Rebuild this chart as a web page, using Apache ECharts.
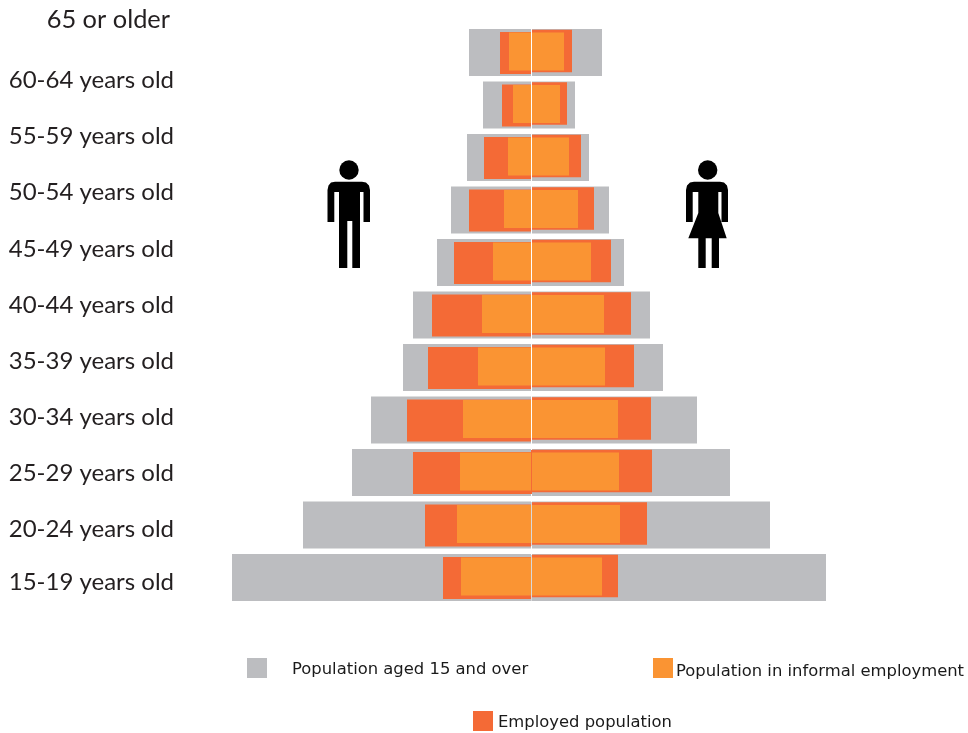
<!DOCTYPE html>
<html>
<head>
<meta charset="utf-8">
<style>html,body{margin:0;padding:0;background:#fff}#chart{width:968px;height:733px}</style>
<script src="https://cdn.jsdelivr.net/npm/echarts@6/dist/echarts.min.js"></script>
</head>
<body>
<div id="chart"></div>
<script>
// Age groups, oldest at the top of the pyramid
const ageGroups = ['65 or older','60-64 years old','55-59 years old','50-54 years old','45-49 years old','40-44 years old','35-39 years old','30-34 years old','25-29 years old','20-24 years old','15-19 years old'];

// Population aged 15 and over
const populationMen   = [62.5,48.5,64.5,80.5,94.5,118.5,128.5,160.5,179.5,228.5,299.5];
const populationWomen = [70.5,43.5,57.5,77.5,92.5,118.5,131.5,165.5,198.5,238.5,294.5];
// Employed population
const employedMen   = [31.5,29.5,47.5,62.5,77.5,99.5,103.5,124.5,118.5,106.5,88.5];
const employedWomen = [40.5,35.5,49.5,62.5,79.5,99.5,102.5,119.5,120.5,115.5,86.5];
// Population in informal employment
const informalMen   = [22.5,18.5,23.5,27.5,38.5,49.5,53.5,68.5,71.5,74.5,70.5];
const informalWomen = [32.5,28.5,37.5,46.5,59.5,72.5,73.5,86.5,87.5,88.5,70.5];

const NAME_POP = 'Population aged 15 and over';
const NAME_EMP = 'Employed population';
const NAME_INF = 'Population in informal employment';
const GREY = '#bcbdc0', RED = '#f46a36', ORANGE = '#fa9433';
const LABEL_FONT = 'Lato';
const LEGEND_FONT = '"DejaVu Sans"';

// Vertical centres of the age labels, which run on their own spacing
const ageLabelY = [20,80.5,136.5,192.5,249.5,305.5,361.5,417.5,473.5,529.5,582.5];

// One half of a pyramid layer: side is -1 for men, 1 for women
function layer(name, values, side, color, height, shift, z) {
  return {
    type: 'custom', name, z, xAxisIndex: 0, yAxisIndex: 0,
    itemStyle: { color },
    encode: { x: 0, y: 1 },
    data: values.map((v, i) => [side * v, i]),
    renderItem(params, api) {
      const end = api.coord([api.value(0), api.value(1)]);
      const start = api.coord([side * 0.5, api.value(1)]);
      const x = Math.min(start[0], end[0]);
      return {
        type: 'rect',
        shape: { x, y: end[1] - height / 2 + shift, width: Math.abs(end[0] - start[0]), height },
        style: { fill: color }
      };
    }
  };
}

// Pictogram outlines
const manBody = [[335,181.7],[362,181.7],[366,182.5],[369,185.5],[370,190],[370,222],[363.5,222],[363.5,192],[360,192],[360,268],[352.3,268],[352.3,221],[347.3,221],[347.3,268],[339,268],[339,192],[334.3,192],[334.3,222],[327.5,222],[327.5,190],[328.5,185.5],[331,182.5]];
const womanBody = [[694,181.7],[720,181.7],[724,182.5],[727,185.5],[728,190],[728,222],[721.5,222],[721.5,192],[718.3,192],[718.3,213],[726.7,238.3],[719,238.3],[719,268],[711.7,268],[711.7,238.3],[705.7,238.3],[705.7,268],[698.3,268],[698.3,238.3],[688.3,238.3],[698.3,213],[698.3,192],[692.7,192],[692.7,222],[686,222],[686,190],[687,185.5],[690,182.5]];

// Each legend entry sits on its own; the rich padding sets the text's drop and indent
function legendAt(name, left, top, padding) {
  return {
    data: [{ name, icon: 'rect' }], left, top, padding: 0,
    itemWidth: 20, itemHeight: 20, selectedMode: false,
    formatter: '{t|{name}}',
    textStyle: {
      fontFamily: LEGEND_FONT, fontSize: 16.4, color: '#1a1a1a',
      rich: { t: { fontFamily: LEGEND_FONT, fontSize: 16.4, color: '#1a1a1a', padding } }
    }
  };
}

const chart = echarts.init(document.getElementById('chart'), null, { renderer: 'canvas' });
chart.setOption({
  animation: false,
  backgroundColor: '#fff',
  grid: [
    { left: 231.5, width: 596, top: 26.25, height: 577.5 },
    { left: 174, width: 1, top: 0, height: 733 }
  ],
  xAxis: [
    { type: 'value', gridIndex: 0, min: -300, max: 296, show: false },
    { type: 'value', gridIndex: 1, min: 0, max: 1, show: false }
  ],
  yAxis: [
    { type: 'category', gridIndex: 0, data: ageGroups, inverse: true, show: false },
    {
      type: 'value', gridIndex: 1, min: 0, max: 733, inverse: true,
      axisLine: { show: false }, axisTick: { show: false }, splitLine: { show: false },
      axisLabel: {
        customValues: ageLabelY,
        margin: 0,
        hideOverlap: false,
        formatter: v => {
          const i = ageLabelY.indexOf(v);
          return i === 0 ? '{inset|' + ageGroups[i] + '}' : ageGroups[i];
        },
        fontFamily: LABEL_FONT, fontSize: 24, color: '#231f20',
        rich: { inset: { fontFamily: LABEL_FONT, fontSize: 25.4, color: '#231f20', padding: [0, 4, 0, 0] } }
      }
    }
  ],
  legend: [
    legendAt(NAME_POP, 247, 658, [3, 0, 0, 20]),
    legendAt(NAME_INF, 653, 658, [8, 0, 0, -2]),
    legendAt(NAME_EMP, 473, 711, [4, 0, 0, 0])
  ],
  series: [
    layer(NAME_POP, populationMen, -1, GREY, 47, 0, 1),
    layer(NAME_POP, populationWomen, 1, GREY, 47, 0, 1),
    layer(NAME_EMP, employedMen, -1, RED, 42, 0.5, 2),
    layer(NAME_EMP, employedWomen, 1, RED, 42.5, -1.5, 2),
    layer(NAME_INF, informalMen, -1, ORANGE, 38, -1, 3),
    layer(NAME_INF, informalWomen, 1, ORANGE, 38, -1, 3)
  ],
  graphic: [
    { type: 'circle', shape: { cx: 349, cy: 170, r: 9.7 }, style: { fill: '#000' } },
    { type: 'polygon', shape: { points: manBody }, style: { fill: '#000' } },
    { type: 'circle', shape: { cx: 707.7, cy: 170, r: 9.7 }, style: { fill: '#000' } },
    { type: 'polygon', shape: { points: womanBody }, style: { fill: '#000' } },
    // Seam between the two halves on the three youngest rows
    { type: 'rect', z: 20, shape: { x: 531, y: 450, width: 1, height: 44 }, style: { fill: RED } },
    { type: 'rect', z: 20, shape: { x: 531, y: 502, width: 1, height: 44 }, style: { fill: '#d8d8da' } },
    { type: 'rect', z: 20, shape: { x: 531, y: 555, width: 1, height: 46 }, style: { fill: '#d8d8da' } }
  ]
});
</script>
</body>
</html>
